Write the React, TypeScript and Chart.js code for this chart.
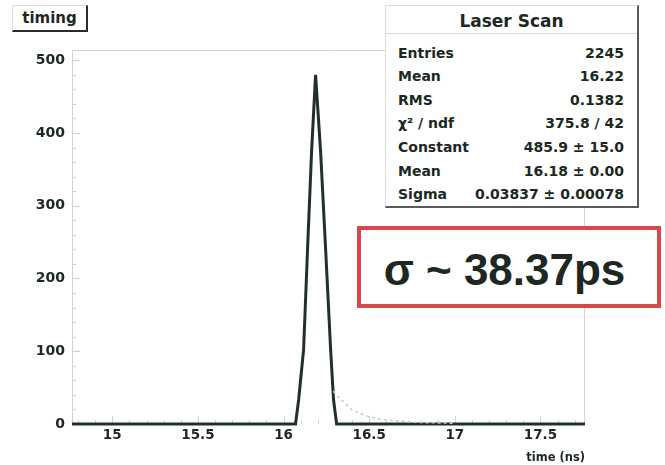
import React, { useEffect, useRef } from "react";
import { Chart, registerables } from "chart.js";

Chart.register(...registerables);

// Histogram outline
const timeNs = [14.765, 16.07, 16.088, 16.117, 16.14, 16.164, 16.187, 16.216, 16.246, 16.275, 16.292, 16.31, 17.76];
const counts = [0, 0, 33, 102, 239, 376, 480, 376, 239, 102, 33, 0, 0];
// Faint tail on the right of the peak
const tailTimeNs = [16.29, 16.32, 16.4, 16.5, 16.57, 16.79, 17.0];
const tailCounts = [45, 37, 19, 10, 6, 2, 1];

const xTickValues = [15, 15.5, 16, 16.5, 17, 17.5];
const yTickValues = [0, 100, 200, 300, 400, 500];
const xMin = 14.765;
const xMax = 17.76;
const yMax = 514;

const histTitle = "timing";
const xAxisTitle = "time (ns)";
const statsTitle = "Laser Scan";
const statLabels = ["Entries", "Mean", "RMS", "χ² / ndf", "Constant", "Mean", "Sigma"];
const statValues = ["2245", "16.22", "0.1382", "375.8 / 42", "485.9 ± 15.0", "16.18 ± 0.00", "0.03837 ± 0.00078"];
const sigmaText = "σ ~ 38.37ps";

const INK = "#1d2822";

const framePlugin = {
  id: "rootFrame",
  beforeDatasetsDraw(chart: any) {
    const { ctx, chartArea } = chart;
    const { left, right, top, bottom } = chartArea;
    const x = chart.scales.x;
    const y = chart.scales.y;
    ctx.save();
    ctx.strokeStyle = "#d2d2d2";
    ctx.lineWidth = 1;
    ctx.beginPath();
    ctx.moveTo(left + 0.5, bottom);
    ctx.lineTo(left + 0.5, top + 0.5);
    ctx.lineTo(right - 0.5, top + 0.5);
    ctx.lineTo(right - 0.5, bottom);
    ctx.stroke();
    ctx.beginPath();
    for (let i = 0; i <= 25; i++) {
      const v = i * 20;
      const py = Math.round(y.getPixelForValue(v)) + 0.5;
      const len = v % 100 === 0 ? 8 : 4;
      ctx.moveTo(left, py);
      ctx.lineTo(left + len, py);
    }
    for (let i = 148; i <= 177; i++) {
      const v = i / 10;
      const px = Math.round(x.getPixelForValue(v)) + 0.5;
      const len = i % 5 === 0 ? 8 : 4;
      ctx.moveTo(px, bottom);
      ctx.lineTo(px, bottom - len);
    }
    ctx.stroke();
    ctx.restore();
  },
};

export default function App() {
  const canvasRef = useRef<HTMLCanvasElement | null>(null);

  useEffect(() => {
    if (!canvasRef.current) return;
    const chart = new Chart(canvasRef.current, {
      type: "line",
      data: {
        datasets: [
          {
            data: tailTimeNs.map((t, i) => ({ x: t, y: tailCounts[i] })),
            borderColor: "#c9c9c9",
            borderWidth: 1.5,
            borderDash: [3, 3],
            pointRadius: 0,
            tension: 0,
            clip: false as any,
          },
          {
            data: timeNs.map((t, i) => ({ x: t, y: counts[i] })),
            borderColor: "#22302a",
            borderWidth: 3,
            pointRadius: 0,
            tension: 0,
            clip: false as any,
          },
        ],
      },
      options: {
        responsive: false,
        animation: false,
        layout: { padding: { top: 50, right: 80, left: 0, bottom: 0 } },
        plugins: {
          legend: { display: false },
          tooltip: { enabled: false },
        },
        scales: {
          x: {
            type: "linear",
            min: xMin,
            max: xMax,
            grid: { display: false, drawTicks: false },
            border: { display: false },
            afterBuildTicks: (s: any) => {
              s.ticks = xTickValues.map((v) => ({ value: v }));
            },
            afterFit: (s: any) => {
              s.height = 41;
            },
            ticks: {
              autoSkip: false,
              maxRotation: 0,
              padding: 3,
              color: INK,
              font: { family: "DejaVu Sans", weight: "bold", size: 13.5 },
              callback: (v: any) => String(v),
            },
            title: {
              display: true,
              text: xAxisTitle,
              align: "end",
              color: INK,
              font: { family: "DejaVu Sans", weight: "bold", size: 11.5 },
              padding: { top: 0, bottom: 0 },
            },
          },
          y: {
            type: "linear",
            min: 0,
            max: yMax,
            grid: { display: false, drawTicks: false },
            border: { display: false },
            afterBuildTicks: (s: any) => {
              s.ticks = yTickValues.map((v) => ({ value: v }));
            },
            afterFit: (s: any) => {
              s.width = 72;
            },
            ticks: {
              padding: 7,
              color: INK,
              font: { family: "DejaVu Sans", weight: "bold", size: 14 },
              callback: (v: any) => String(v),
            },
          },
        },
      },
      plugins: [framePlugin],
    });
    return () => chart.destroy();
  }, []);

  const rowTop = (i: number) => 52.5 + i * 23.6 - 10 - 6;

  return (
    <div style={{ position: "absolute", left: 0, top: 0, width: 665, height: 465, background: "#fff", overflow: "hidden" }}>
      <canvas ref={canvasRef} width={665} height={465} style={{ display: "block", width: 665, height: 465 }} />

      {/* histogram title box */}
      <div
        style={{
          position: "absolute",
          left: 12,
          top: 5,
          width: 76,
          height: 27,
          boxSizing: "border-box",
          borderTop: "1px solid #dedede",
          borderLeft: "1px solid #dedede",
          borderRight: "2px solid #2b2b2b",
          borderBottom: "2px solid #2b2b2b",
          background: "#fff",
          color: INK,
          font: "bold 15px 'DejaVu Sans'",
          lineHeight: "25px",
          textAlign: "center",
        }}
      >
        {histTitle}
      </div>

      {/* statistics box */}
      <div
        style={{
          position: "absolute",
          left: 385,
          top: 5,
          width: 254,
          height: 203,
          boxSizing: "border-box",
          borderTop: "1px solid #dcdcdc",
          borderLeft: "1px solid #dcdcdc",
          borderRight: "2px solid #5a5a5a",
          borderBottom: "2px solid #5a5a5a",
          background: "#fff",
          color: INK,
          fontFamily: "'DejaVu Sans'",
          fontWeight: "bold",
        }}
      >
        <div style={{ position: "absolute", left: 0, right: 0, top: 4, height: 22, lineHeight: "22px", textAlign: "center", fontSize: 17 }}>
          {statsTitle}
        </div>
        <div style={{ position: "absolute", left: 0, right: 0, top: 27, height: 1, background: "#d8d8d8" }} />
        {statLabels.map((lab, i) => (
          <React.Fragment key={i}>
            <div style={{ position: "absolute", left: 12, top: rowTop(i), height: 20, lineHeight: "20px", fontSize: 14, whiteSpace: "nowrap" }}>
              {lab}
            </div>
            <div style={{ position: "absolute", right: 13, top: rowTop(i), height: 20, lineHeight: "20px", fontSize: 14, whiteSpace: "nowrap", textAlign: "right" }}>
              {statValues[i]}
            </div>
          </React.Fragment>
        ))}
      </div>

      {/* sigma annotation box */}
      <div
        style={{
          position: "absolute",
          left: 357,
          top: 226,
          width: 304,
          height: 82,
          boxSizing: "border-box",
          border: "4px solid #d9474d",
          background: "#fff",
        }}
      >
        <div
          style={{
            position: "absolute",
            left: 0,
            top: 15,
            width: 287,
            height: 50,
            lineHeight: "50px",
            textAlign: "center",
            color: INK,
            font: "bold 44px 'Liberation Sans'",
            whiteSpace: "nowrap",
          }}
        >
          {sigmaText}
        </div>
      </div>
    </div>
  );
}
